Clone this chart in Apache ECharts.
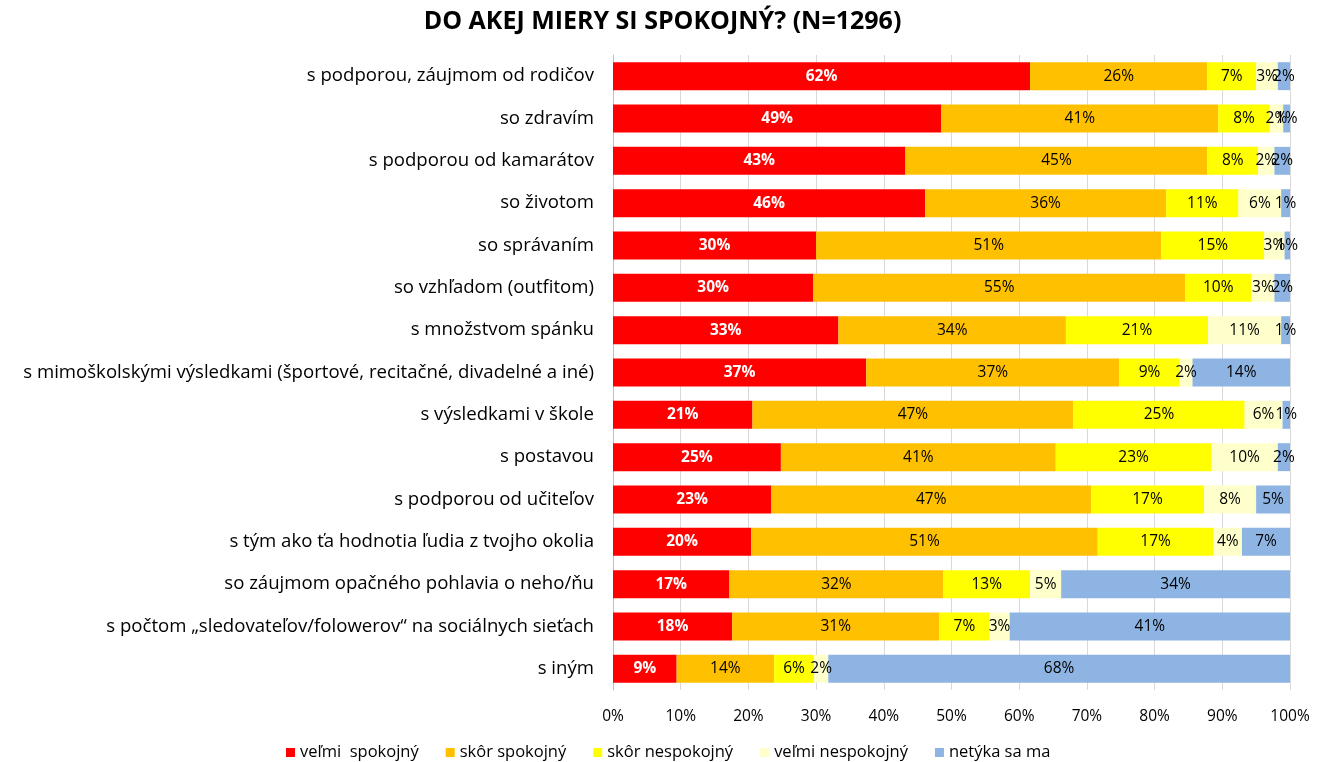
<!DOCTYPE html>
<html lang="sk">
<head>
    <meta charset="UTF-8">
    <title>Do akej miery si spokojný?</title>
    <script src="https://cdn.jsdelivr.net/npm/echarts@6/dist/echarts.min.js"></script>
    <style>
        html, body { margin: 0; padding: 0; background: #fff; }
    </style>
</head>
<body>
    <div id="main" style="width: 1325px;height:762px;"></div>
    <script type="text/javascript">
        var categories = [
            's podporou, záujmom od rodičov',
            'so zdravím',
            's podporou od kamarátov',
            'so životom',
            'so správaním',
            'so vzhľadom (outfitom)',
            's množstvom spánku',
            's mimoškolskými výsledkami (športové, recitačné, divadelné a iné)',
            's výsledkami v škole',
            's postavou',
            's podporou od učiteľov',
            's tým ako ťa hodnotia ľudia z tvojho okolia',
            'so záujmom opačného pohlavia o neho/ňu',
            's počtom „sledovateľov/folowerov“ na sociálnych sieťach',
            's iným'
        ];
        var seriesNames = ['veľmi  spokojný', 'skôr spokojný', 'skôr nespokojný', 'veľmi nespokojný', 'netýka sa ma'];

        // percentá odčítané z grafu
        var velmiSpokojny   = [61.6, 48.5, 43.2, 46.1, 30.0, 29.6, 33.3, 37.4, 20.6, 24.8, 23.4, 20.4, 17.2, 17.6, 9.4];
        var skorSpokojny    = [26.2, 40.9, 44.6, 35.6, 51.0, 54.9, 33.6, 37.4, 47.4, 40.6, 47.2, 51.2, 31.6, 30.6, 14.4];
        var skorNespokojny  = [7.2, 7.6, 7.5, 10.7, 15.2, 9.8, 21.0, 8.9, 25.3, 23.0, 16.7, 17.1, 12.8, 7.4, 5.9];
        var velmiNespokojny = [3.2, 2.0, 2.4, 6.3, 3.0, 3.4, 10.8, 1.9, 5.6, 9.8, 7.7, 4.2, 4.6, 3.0, 2.1];
        var netykaSa        = [1.8, 1.0, 2.3, 1.3, 0.8, 2.3, 1.3, 14.4, 1.1, 1.8, 5.0, 7.1, 33.8, 41.4, 68.2];

        var values = [velmiSpokojny, skorSpokojny, skorNespokojny, velmiNespokojny, netykaSa];
        var colors = ['#ff0000', '#ffc000', '#ffff00', '#ffffcc', '#8db4e2'];

        var myChart = echarts.init(document.getElementById('main'));

        var series = seriesNames.map(function (name, i) {
            return {
                name: name,
                type: 'bar',
                stack: 'total',
                barWidth: '66%',
                data: values[i],
                itemStyle: { color: colors[i] },
                label: {
                    show: true,
                    position: 'inside',
                    color: i === 0 ? '#fff' : '#000',
                    fontWeight: i === 0 ? 'bold' : 'normal',
                    fontSize: 15.5,
                    fontFamily: 'Open Sans',
                    formatter: function (p) { return Math.round(p.value) + '%'; }
                }
            };
        });

        var option = {
            animation: false,
            title: {
                text: 'DO AKEJ MIERY SI SPOKOJNÝ? (N=1296)',
                left: 'center',
                top: 4,
                textStyle: {
                    color: '#000',
                    fontSize: 25,
                    fontWeight: 'bold',
                    fontFamily: 'Open Sans'
                }
            },
            legend: {
                data: seriesNames,
                top: 739,
                left: 281,
                icon: 'rect',
                itemWidth: 9,
                itemHeight: 9,
                itemGap: 27,
                textStyle: { fontSize: 16.5, color: '#000', fontFamily: 'Open Sans' }
            },
            grid: {
                left: 613,
                right: 35,
                top: 55,
                bottom: 72
            },
            xAxis: {
                type: 'value',
                min: 0,
                max: 100,
                interval: 10,
                axisLine: { show: false },
                axisTick: { show: false },
                splitLine: { lineStyle: { color: '#d9d9d9' } },
                axisLabel: {
                    formatter: '{value}%',
                    color: '#000',
                    fontSize: 15.5,
                    fontFamily: 'Open Sans',
                    margin: 19
                }
            },
            yAxis: {
                type: 'category',
                inverse: true,
                data: categories,
                axisLine: { lineStyle: { color: '#bfbfbf' } },
                axisTick: { show: false },
                axisLabel: {
                    color: '#000',
                    fontSize: 18.6,
                    fontFamily: 'Open Sans',
                    margin: 19
                }
            },
            series: series
        };

        myChart.setOption(option);
    </script>
</body>
</html>
